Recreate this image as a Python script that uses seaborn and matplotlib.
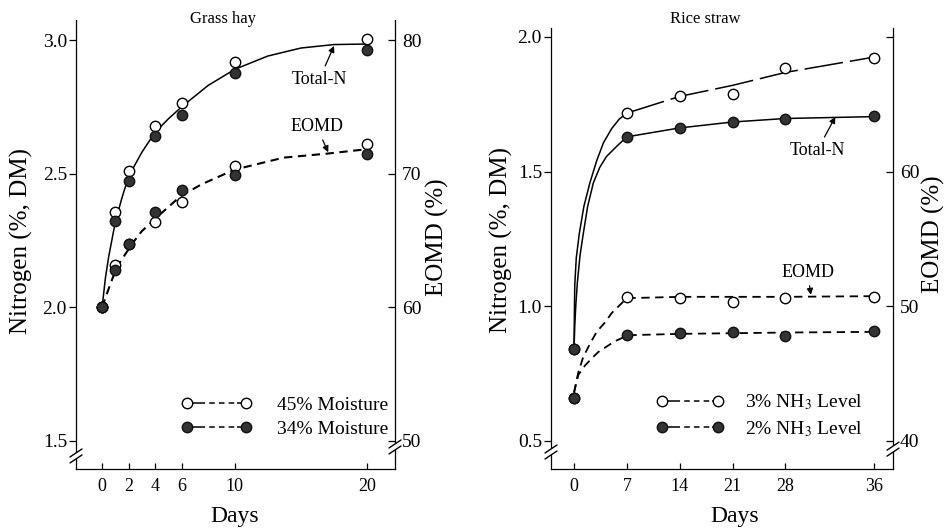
import numpy as np
import matplotlib
matplotlib.use("Agg")
import matplotlib.pyplot as plt
import seaborn as sns
from matplotlib.lines import Line2D

# ---------------- data: Grass hay ----------------
gh_days = [0, 1, 2, 4, 6, 10, 20]
gh_n_45 = [2.0, 2.356, 2.509, 2.677, 2.766, 2.919, 3.004]
gh_n_34 = [2.0, 2.322, 2.471, 2.642, 2.720, 2.876, 2.963]
gh_eomd_45 = [60.0, 63.2, 64.7, 66.4, 67.9, 70.6, 72.2]
gh_eomd_34 = [60.0, 62.8, 64.7, 67.1, 68.8, 69.9, 71.5]
# fitted curves
gh_n_curve_days = [0, 0.25, 0.5, 1, 1.5, 2, 3, 4, 5, 6, 8, 10, 12.5, 15, 17.5, 20]
gh_n_curve_vals = [2.0, 2.11, 2.19, 2.32, 2.41, 2.49, 2.58, 2.655, 2.705, 2.75, 2.83,
                   2.89, 2.94, 2.97, 2.983, 2.985]
gh_eomd_curve_days = [0, 0.5, 1.1, 2.3, 3, 4.2, 5.9, 7.5, 10, 13.7, 17, 19.7]
gh_eomd_curve_vals = [60.0, 61.4, 63.0, 64.8, 65.7, 66.8, 68.3, 69.2, 70.3, 71.2, 71.5, 71.8]

# ---------------- data: Rice straw ----------------
rs_days = [0, 7, 14, 21, 28, 36]
rs_n_3 = [0.842, 1.717, 1.781, 1.789, 1.886, 1.921]
rs_n_2 = [0.842, 1.629, 1.660, 1.684, 1.696, 1.705]
rs_eomd_3 = [43.2, 50.7, 50.6, 50.3, 50.6, 50.7]
rs_eomd_2 = [43.2, 47.9, 48.0, 48.1, 47.8, 48.2]
rs_n3_curve_days = [0, 0.05, 0.1, 0.3, 0.7, 1.3, 2.1, 3.0, 3.9, 5.0, 6.0, 7, 14, 21, 28, 36]
rs_n3_curve_vals = [0.842, 0.98, 1.08, 1.18, 1.27, 1.37, 1.458, 1.54, 1.607, 1.66, 1.695,
                    1.717, 1.779, 1.82, 1.868, 1.925]
rs_n2_curve_days = [0, 0.1, 0.25, 0.44, 0.8, 1.24, 1.8, 2.56, 3.4, 4.3, 5.7, 7, 14, 21, 28, 36]
rs_n2_curve_vals = [0.842, 0.93, 1.01, 1.087, 1.19, 1.272, 1.37, 1.458, 1.515, 1.556, 1.595,
                    1.629, 1.662, 1.684, 1.697, 1.704]
rs_e3_curve_days = [0, 0.57, 1.2, 2.1, 3.0, 4.1, 5.0, 5.9, 7, 14, 21, 28, 36]
rs_e3_curve_vals = [43.6, 45.1, 46.2, 47.2, 48.1, 48.8, 49.5, 50.0, 50.6, 50.7, 50.7, 50.7, 50.75]
rs_e2_curve_days = [0, 0.57, 1.45, 2.3, 3.2, 4.3, 5.4, 6.2, 7, 14, 21, 28, 36]
rs_e2_curve_vals = [43.6, 44.9, 45.6, 46.1, 46.6, 47.0, 47.4, 47.6, 47.85, 47.95, 48.0, 48.05, 48.1]

gh_xticks = [0, 2, 4, 6, 10, 20]
rs_xticks = [0, 7, 14, 21, 28, 36]

# ---------------- style ----------------
sns.set_theme(style="ticks")
plt.rcParams.update({
    "font.family": ["Liberation Serif", "DejaVu Serif"],
    "mathtext.fontset": "stix",
    "lines.scale_dashes": False,
    "axes.edgecolor": "black",
    "axes.labelcolor": "black",
    "text.color": "black",
    "xtick.color": "black",
    "ytick.color": "black",
    "axes.linewidth": 0.9,
})

FILL = "#333333"
LW = 1.1
DASH = (0, (6, 4))
LONGDASH = (0, (28, 5))
MS = 56

fig = plt.figure(figsize=(9.5, 5.31), dpi=100)
axL = fig.add_axes([0.08, 0.1168, 0.3358, 0.8456])
axR = fig.add_axes([0.58, 0.1168, 0.36, 0.8305])

# nonlinear day axis for rice straw (as drawn in the original)
K = 1.47
def fwd(d):
    d = np.asarray(d, dtype=float)
    return np.where(d <= 28, d, 28 + (d - 28) * K)
def inv(u):
    u = np.asarray(u, dtype=float)
    return np.where(u <= 28, u, 28 + (u - 28) / K)
axR.set_xscale("function", functions=(fwd, inv))

axLt = axL.twinx()
axRt = axR.twinx()
axRt.set_xscale("function", functions=(fwd, inv))


def pts(ax, x, y, filled):
    sns.scatterplot(x=x, y=y, ax=ax, marker="o", s=MS,
                    color=FILL if filled else "white",
                    edgecolor="#111111" if filled else "black",
                    linewidth=1.0, zorder=4, legend=False)


def curve(ax, x, y, ls="-", lw=LW):
    sns.lineplot(x=x, y=y, ax=ax, color="black", linewidth=lw, linestyle=ls,
                 sort=False, estimator=None, errorbar=None, zorder=2, legend=False)


# ---- Grass hay ----
curve(axL, gh_n_curve_days, gh_n_curve_vals)
pts(axL, gh_days, gh_n_45, False)
pts(axL, gh_days, gh_n_34, True)
curve(axLt, gh_eomd_curve_days, gh_eomd_curve_vals, ls=DASH, lw=1.5)
pts(axLt, gh_days, gh_eomd_45, False)
pts(axLt, gh_days, gh_eomd_34, True)

# ---- Rice straw ----
d3 = np.array(rs_n3_curve_days); v3 = np.array(rs_n3_curve_vals)
curve(axR, d3[d3 <= 7], v3[d3 <= 7])
curve(axR, d3[d3 >= 7], v3[d3 >= 7], ls=LONGDASH)
curve(axR, rs_n2_curve_days, rs_n2_curve_vals)
pts(axR, rs_days, rs_n_3, False)
pts(axR, rs_days, rs_n_2, True)
curve(axRt, rs_e3_curve_days, rs_e3_curve_vals, ls=DASH, lw=1.3)
curve(axRt, rs_e2_curve_days, rs_e2_curve_vals, ls=DASH, lw=1.3)
pts(axRt, rs_days, rs_eomd_3, False)
pts(axRt, rs_days, rs_eomd_2, True)

# ---- axes formatting ----
def fmt(ax, axt, xlim, ylim, ylim_t, xticks, yticks, yt_ticks, yt_labels):
    ax.set_xlim(*xlim)
    axt.set_xlim(*xlim)
    ax.set_ylim(*ylim)
    axt.set_ylim(*ylim_t)
    ax.set_xticks(xticks)
    ax.set_xticklabels([str(t) for t in xticks])
    ax.set_yticks(yticks)
    ax.set_yticklabels([f"{t:.1f}" for t in yticks])
    axt.set_yticks(yt_ticks)
    axt.set_yticklabels(yt_labels)
    for s in ("top", "right"):
        ax.spines[s].set_visible(False)
    for s in ("top", "left", "bottom"):
        axt.spines[s].set_visible(False)
    ax.tick_params(axis="x", direction="in", length=4.5, width=0.9, pad=6.5,
                   labelsize=13, bottom=True, top=False)
    ax.tick_params(axis="y", direction="out", length=5, width=0.9, pad=1.5,
                   labelsize=14, left=True, right=False)
    axt.tick_params(axis="y", direction="in", length=5, width=0.9, pad=5,
                    labelsize=14, right=True, left=False)
    axt.tick_params(axis="x", bottom=False, top=False, labelbottom=False)
    ax.set_xlabel("Days", fontsize=17)
    ax.set_ylabel("Nitrogen (%, DM)", fontsize=18)
    axt.set_ylabel("EOMD (%)", fontsize=18, rotation=90)


fmt(axL, axLt, (-1.97, 22.1), (1.395, 3.075), (47.9, 81.5),
    gh_xticks, [1.5, 2.0, 2.5, 3.0], [50, 60, 70, 80], ["50", "60", "70", "80"])
fmt(axR, axRt, (-3.05, 37.7), (0.396, 2.033), (37.92, 70.66),
    rs_xticks, [0.5, 1.0, 1.5, 2.0], [40, 50, 60, 70], ["40", "50", "60", ""])

axL.xaxis.set_label_coords(0.498, -0.082)
axL.yaxis.set_label_coords(-0.136, 0.508)
axLt.yaxis.set_label_coords(1.097, 0.517)
axR.xaxis.set_label_coords(0.538, -0.084)
axR.yaxis.set_label_coords(-0.110, 0.52)
axRt.yaxis.set_label_coords(1.085, 0.532)

fig.text(223 / 950, 1 - 23 / 531, "Grass hay", ha="center", va="baseline", fontsize=12)
fig.text(705 / 950, 1 - 23 / 531, "Rice straw", ha="center", va="baseline", fontsize=12)

# ---- annotations ----
arw = dict(arrowstyle="-|>", color="black", lw=0.9, mutation_scale=9, shrinkA=1, shrinkB=0)
axL.annotate("Total-N", xy=(17.5, 2.978), xytext=(16.4, 2.854), ha="center", va="center",
             fontsize=13, arrowprops=arw, zorder=6)
axLt.annotate("EOMD", xy=(17.06, 71.6), xytext=(16.2, 73.5), ha="center", va="center",
              fontsize=13, arrowprops=arw, zorder=6)
axR.annotate("Total-N", xy=(32.5, 1.703), xytext=(30.9, 1.580), ha="center", va="center",
             fontsize=13, arrowprops=arw, zorder=6)
axRt.annotate("EOMD", xy=(30.3, 50.85), xytext=(30.0, 52.5), ha="center", va="center",
              fontsize=13, arrowprops=arw, zorder=6)

# ---- legends ----
LEG_LS = (0, (13, 3, 4, 3, 4, 3, 4, 2))
def handles():
    h1 = Line2D([], [], color="black", lw=LW, linestyle=LEG_LS, marker="o", markersize=7.5,
                markerfacecolor="white", markeredgecolor="black", markeredgewidth=1.0)
    h2 = Line2D([], [], color="black", lw=LW, linestyle=LEG_LS, marker="o", markersize=7.5,
                markerfacecolor=FILL, markeredgecolor="#111111", markeredgewidth=1.0)
    return [h1, h2]

axLt.legend(handles=handles(), labels=["45% Moisture", "34% Moisture"], loc="center left",
            bbox_to_anchor=(0.33, 0.1158), frameon=False, numpoints=2, handlelength=3.64,
            handletextpad=1.3, labelspacing=0.3, borderpad=0, borderaxespad=0, fontsize=14)
axRt.legend(handles=handles(), labels=["3% NH$_3$ Level", "2% NH$_3$ Level"], loc="center left",
            bbox_to_anchor=(0.3076, 0.1213), frameon=False, numpoints=2, handlelength=3.48,
            handletextpad=1.09, labelspacing=0.35, borderpad=0, borderaxespad=0, fontsize=14)

# ---- axis break marks ----
def add_break(ax, xf, yf):
    bb = ax.get_position()
    W = bb.width * 950
    H = bb.height * 531
    ax.plot([xf, xf], [yf - 3 / H, yf + 3 / H], transform=ax.transAxes, color="white",
            lw=3, clip_on=False, zorder=7, solid_capstyle="butt")
    for off in (-3, 3):
        ax.plot([xf - 6 / W, xf + 6 / W], [yf + (off - 4) / H, yf + (off + 4) / H],
                transform=ax.transAxes, color="black", lw=1.0, clip_on=False, zorder=8)

add_break(axLt, 0.0, 0.029)
add_break(axLt, 1.0, 0.049)
add_break(axRt, 0.0, 0.0385)
add_break(axRt, 1.0, 0.045)

fig.savefig("out.png", dpi=100)
